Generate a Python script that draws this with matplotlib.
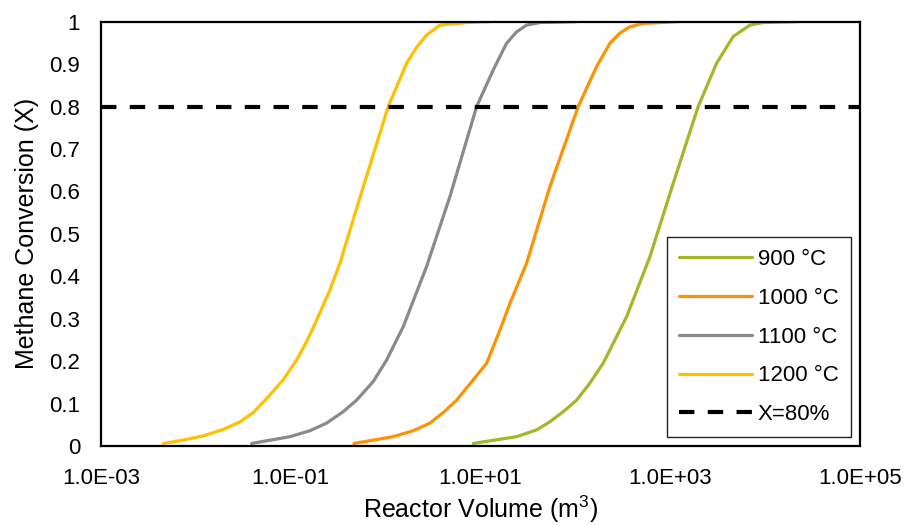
import numpy as np
import matplotlib
matplotlib.use("Agg")
import matplotlib.pyplot as plt
from matplotlib.ticker import FixedLocator, FuncFormatter, NullLocator

plt.rcParams['font.family'] = ['Liberation Sans', 'DejaVu Sans']
plt.rcParams['mathtext.fontset'] = 'custom'
plt.rcParams['mathtext.rm'] = 'Liberation Sans'

# reactor volume (m3) vs methane conversion
x_900 = [8.38, 24.0, 39.0, 53.8, 74.5, 103, 142, 196, 347, 610, 1074, 1968, 3076, 4603, 6902, 9528, 22284]
y_900 = [0.006, 0.022, 0.038, 0.057, 0.081, 0.108, 0.148, 0.195, 0.305, 0.446, 0.619, 0.800, 0.902, 0.965, 0.992, 0.998, 1.0]

x_1000 = [0.463, 1.20, 1.954, 2.93, 4.05, 5.60, 8.38, 11.6, 16.0, 20.4, 30.6, 53.8, 107, 167, 231, 294, 375, 518, 1211]
y_1000 = [0.006, 0.022, 0.036, 0.054, 0.079, 0.108, 0.156, 0.195, 0.273, 0.336, 0.431, 0.611, 0.800, 0.894, 0.949, 0.973, 0.988, 0.996, 1.0]

x_1100 = [0.0387, 0.0982, 0.1592, 0.239, 0.357, 0.494, 0.740, 1.026, 1.531, 2.70, 4.76, 9.10, 13.6, 18.8, 24.0, 30.6, 42.3, 103]
y_1100 = [0.006, 0.022, 0.036, 0.054, 0.081, 0.108, 0.152, 0.203, 0.281, 0.423, 0.588, 0.800, 0.886, 0.949, 0.976, 0.992, 0.998, 1.0]

x_1200 = [0.00454, 0.00736, 0.01197, 0.01945, 0.0292, 0.0403, 0.0557, 0.0834, 0.1153, 0.1469, 0.1875,
          0.2588, 0.330, 0.4207, 0.581, 1.064, 1.663, 2.123, 2.704, 3.733, 7.145, 12.56]
y_1200 = [0.006, 0.014, 0.024, 0.039, 0.057, 0.079, 0.112, 0.156, 0.203, 0.246, 0.297,
          0.368, 0.431, 0.509, 0.611, 0.800, 0.902, 0.940, 0.969, 0.992, 0.998, 1.0]

x_target = [1e-3, 1e5]
y_target = [0.8, 0.8]

x_ticks = [1e-3, 1e-1, 1e1, 1e3, 1e5]
y_ticks = [0, 0.1, 0.2, 0.3, 0.4, 0.5, 0.6, 0.7, 0.8, 0.9, 1]

fig = plt.figure(figsize=(9.07, 5.25), dpi=100)
ax = fig.add_axes([0.1114, 0.1505, 0.8368, 0.8082])

lw = 2.3
kw = dict(lw=lw, solid_joinstyle='round', solid_capstyle='round')
ax.plot(x_900, y_900, color='#A0B82A', label='900 °C', **kw)
ax.plot(x_1000, y_1000, color='#FF9200', label='1000 °C', **kw)
ax.plot(x_1100, y_1100, color='#8A8A8A', label='1100 °C', **kw)
ax.plot(x_1200, y_1200, color='#FFC000', label='1200 °C', **kw)
ax.plot(x_target, y_target, color='black', lw=3, dashes=(3.7, 3.2), label='X=80%')

ax.set_xscale('log')
ax.set_xlim(1e-3, 1e5)
ax.set_ylim(0, 1)
ax.xaxis.set_major_locator(FixedLocator(x_ticks))
ax.xaxis.set_minor_locator(NullLocator())
ax.xaxis.set_major_formatter(FuncFormatter(lambda v, p: "%.1E" % v))
ax.set_yticks(y_ticks)
ax.yaxis.set_major_formatter(FuncFormatter(lambda v, p: "%g" % v))
ax.tick_params(axis='both', length=0, labelsize=16)
ax.tick_params(axis='y', pad=15)
ax.tick_params(axis='x', pad=16)
for s in ax.spines.values():
    s.set_linewidth(1.6)
    s.set_color('black')

ax.set_xlabel(r"Reactor Volume (m$^\mathregular{3}$)", fontsize=18, labelpad=3)
ax.set_ylabel("Methane Conversion (X)", fontsize=18, labelpad=7)

leg = ax.legend(loc='lower right', bbox_to_anchor=(0.988, 0.0205), borderaxespad=0,
                fontsize=16, handlelength=3.3, handletextpad=0.25, labelspacing=0.8,
                borderpad=0.55, fancybox=False, framealpha=1)
leg.get_frame().set_edgecolor('#222222')
leg.get_frame().set_linewidth(1.0)

fig.savefig("out.png", dpi=100)
